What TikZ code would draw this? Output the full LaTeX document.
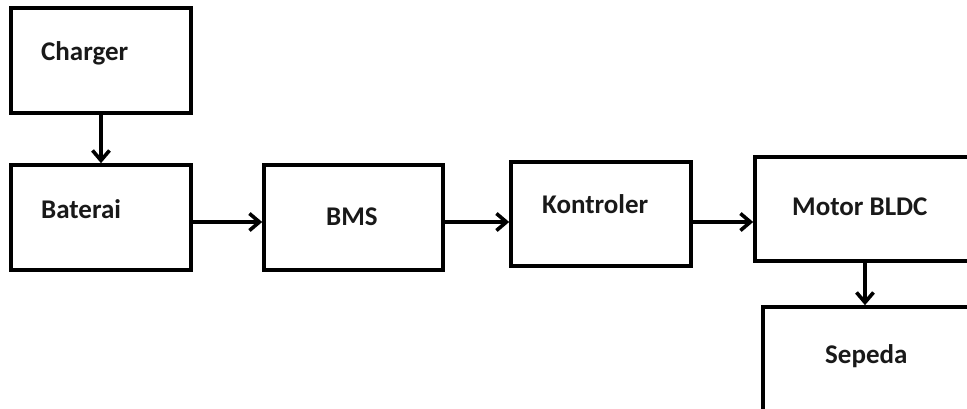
\documentclass[tikz,border=0pt]{standalone}
\usepackage{fontspec}
\setmainfont{Carlito}
\usetikzlibrary{arrows.meta}
\begin{document}
\begin{tikzpicture}[x=1pt,y=-1pt,
  blk/.style={draw=black, line width=3.6pt, inner sep=0pt},
  lbl/.style={anchor=base west, inner sep=0pt, font=\fontsize{27}{31}\selectfont\bfseries, text=black!90},
  arr/.style={line width=3.6pt, -{Straight Barb[length=10pt,width=17pt,line width=3.6pt]}}]
\useasboundingbox (0,0) rectangle (967,408);
\clip (0,0) rectangle (967,408);
\node[blk, minimum width=180pt, minimum height=105pt] (charger) at (101,60.5) {};
\node[blk, minimum width=180pt, minimum height=105pt] (baterai) at (101,217.5) {};
\node[blk, minimum width=179pt, minimum height=105pt] (bms) at (353.5,217.5) {};
\node[blk, minimum width=180pt, minimum height=104pt] (kontroler) at (601,214) {};
\node[blk, minimum width=235pt, minimum height=104pt] (motor) at (872.5,209) {};
\node[blk, minimum width=227pt, minimum height=113pt] (sepeda) at (876.5,363.5) {};
\node[lbl] (tcharger) at (41,60) {Charger};
\node[lbl] (tbaterai) at (41,218) {Baterai};
\node[lbl] (tbms) at (326,225) {BMS};
\node[lbl] (tkontroler) at (542,213) {Kontroler};
\node[lbl] (tmotor) at (792,215) {Motor BLDC};
\node[lbl] (tsepeda) at (825,363) {Sepeda};
\coordinate (row) at (0,222);
\coordinate (col) at (865,0);
\draw[arr] (charger.south) -- (baterai.north);
\draw[arr] (baterai.east |- row) -- (bms.west |- row);
\draw[arr] (bms.east |- row) -- (kontroler.west |- row);
\draw[arr] (kontroler.east |- row) -- (motor.west |- row);
\draw[arr] (motor.south -| col) -- (sepeda.north -| col);
\end{tikzpicture}
\end{document}
